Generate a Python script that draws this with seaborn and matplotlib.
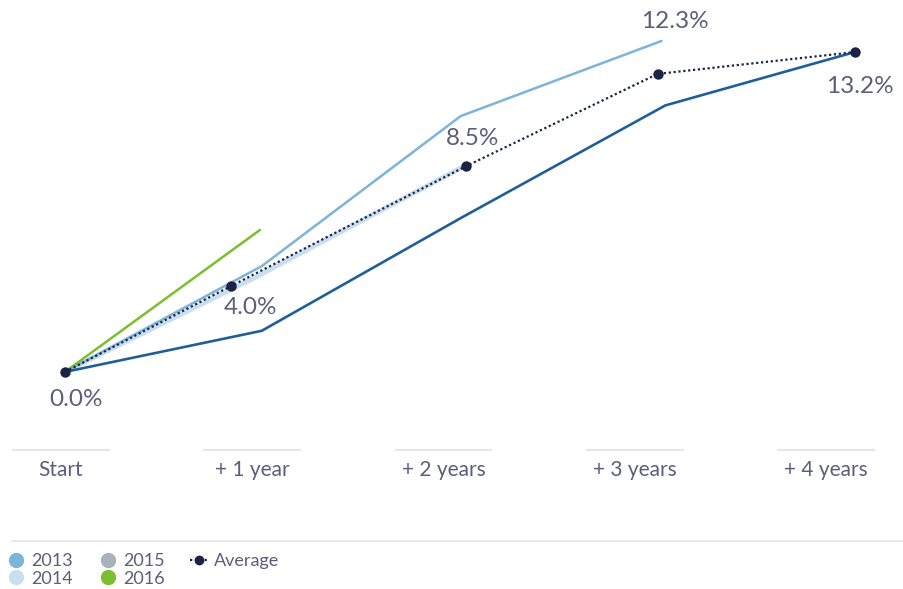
import matplotlib
matplotlib.use("Agg")
import matplotlib.pyplot as plt
from matplotlib.lines import Line2D
import seaborn as sns
import pandas as pd

# ---- data ----
categories = ["Start", "+ 1 year", "+ 2 years", "+ 3 years", "+ 4 years"]

s2012_x = [0.02, 1.05, 2.09, 3.16, 4.15]
s2012_y = [0.0, 1.7, 6.35, 11.0, 13.2]

s2013_x = [0.02, 1.05, 2.09, 3.14]
s2013_y = [0.0, 4.37, 10.56, 13.66]

s2014_x = [0.02, 1.0, 2.12]
s2014_y = [0.0, 3.84, 8.54]

s2016_x = [0.02, 1.04]
s2016_y = [0.0, 5.86]

avg_x = [0.02, 0.89, 2.12, 3.12, 4.15]
avg_y = [0.0, 3.55, 8.5, 12.3, 13.2]
avg_labels = ["0.0%", "4.0%", "8.5%", "12.3%", "13.2%"]

legend_labels = ["2013", "2014", "2015", "2016", "Average"]

# ---- style ----
sns.set_theme(style="white")
plt.rcParams["font.family"] = ["Lato", "DejaVu Sans"]
TEXT = "#5d5d7c"
NAVY = "#1b2444"
c2012 = "#1f5f99"
c2013 = "#7db4da"
c2014 = "#c9def0"
c2015 = "#a8b2b9"
c2016 = "#7cbf2e"

fig = plt.figure(figsize=(9.04, 5.89), dpi=100)
ax = fig.add_axes([0, 0.236, 1, 0.764])

def frame(x, y, name):
    return pd.DataFrame({"x": x, "y": y, "series": name})

sns.lineplot(data=frame(s2014_x, s2014_y, "2014"), x="x", y="y", ax=ax,
             color=c2014, linewidth=3.5, sort=False, legend=False)
sns.lineplot(data=frame(s2013_x, s2013_y, "2013"), x="x", y="y", ax=ax,
             color=c2013, linewidth=1.8, sort=False, legend=False)
sns.lineplot(data=frame(s2012_x, s2012_y, "2012"), x="x", y="y", ax=ax,
             color=c2012, linewidth=1.9, sort=False, legend=False)
sns.lineplot(data=frame(s2016_x, s2016_y, "2016"), x="x", y="y", ax=ax,
             color=c2016, linewidth=1.8, sort=False, legend=False)
sns.lineplot(data=frame(avg_x, avg_y, "Average"), x="x", y="y", ax=ax,
             color=NAVY, linewidth=1.6, linestyle=(0, (1, 1.2)), sort=False,
             legend=False, marker="o", markersize=7.5, markeredgewidth=0)

offsets = [(11, -28), (19, -22), (6, 27), (17, 52), (5, -34)]
for x, y, lab, off in zip(avg_x, avg_y, avg_labels, offsets):
    ax.annotate(lab, (x, y), xytext=off, textcoords="offset pixels",
                ha="center", va="center", fontsize=17.5, color=TEXT)

ax.set_xlim(-0.319, 4.408)
ax.set_ylim(-3.22, 15.35)
ax.set_xticks(range(len(categories)))
ax.set_xticklabels(categories, fontsize=15, color=TEXT)
ax.tick_params(axis="x", length=0, pad=7)
ax.set_yticks([])
ax.set_xlabel("")
ax.set_ylabel("")
for s in ax.spines.values():
    s.set_visible(False)

# short grey rules above each category label
for i in range(len(categories)):
    ax.plot([i - 0.256, i + 0.256], [-3.22, -3.22], color="#e6e6e9",
            linewidth=1.5, clip_on=False, solid_capstyle="butt")

# separator line above legend
fig.add_artist(Line2D([12 / 904, 1.0], [1 - 541 / 589, 1 - 541 / 589],
                      color="#e3e3e6", linewidth=1.2))

handles = [
    Line2D([], [], linestyle="none", marker="o", markersize=10, color=c2013),
    Line2D([], [], linestyle="none", marker="o", markersize=10, color=c2014),
    Line2D([], [], linestyle="none", marker="o", markersize=10, color=c2015),
    Line2D([], [], linestyle="none", marker="o", markersize=10, color=c2016),
    Line2D([], [], linestyle=(0, (1, 1.2)), linewidth=1.6, marker="o",
           markersize=6, color=NAVY),
]
leg = fig.legend(handles, legend_labels, ncol=3, loc="upper left",
                 bbox_to_anchor=(0.008, 1 - 553 / 589), frameon=False,
                 fontsize=13, handlelength=1.0, handletextpad=0.35,
                 columnspacing=1.4, labelspacing=0.1, borderaxespad=0,
                 borderpad=0.0)
for t in leg.get_texts():
    t.set_color(TEXT)

fig.savefig("out.png", dpi=100)
